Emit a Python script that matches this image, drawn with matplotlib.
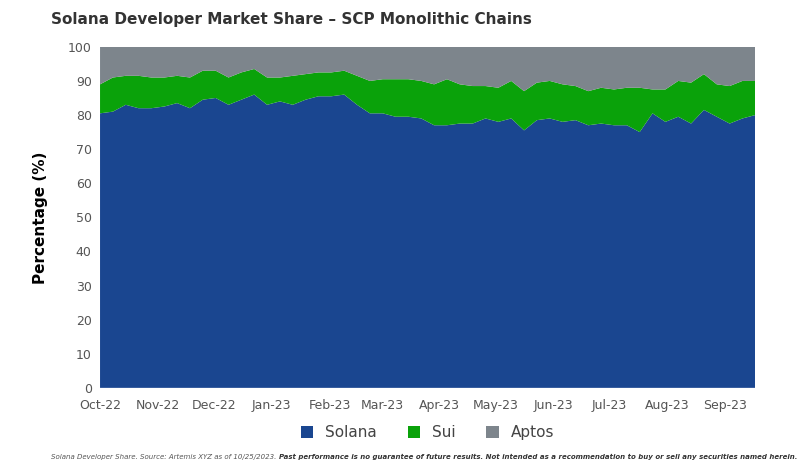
import matplotlib
matplotlib.use("Agg")
import matplotlib.pyplot as plt
import pandas as pd

dates = pd.date_range("2022-10-01", "2023-09-17", periods=52)
solana = [80.5,81,83,82,82,82.5,83.5,82,84.5,85,83,84.5,86,83,84,83,84.5,85.5,85.5,86,83,80.5,80.5,79.5,79.5,79,
          77,77,77.5,77.5,79,78,79,75.5,78.5,79,78,78.5,77,77.5,77,77,75,80.5,78,79.5,77.5,81.5,79.5,77.5,79,80]
top = [89,91,91.5,91.5,91,91,91.5,91,93,93,91,92.5,93.5,91,91,91.5,92,92.5,92.5,93,91.5,90,90.5,90.5,90.5,90,
       89,90.5,89,88.5,88.5,88,90,87,89.5,90,89,88.5,87,88,87.5,88,88,87.5,87.5,90,89.5,92,89,88.5,90,90]
sui = [t - s for t, s in zip(top, solana)]
aptos = [100 - t for t in top]
tick_labels = ["Oct-22","Nov-22","Dec-22","Jan-23","Feb-23","Mar-23","Apr-23","May-23","Jun-23","Jul-23","Aug-23","Sep-23"]

fig = plt.figure(figsize=(8.1, 4.73), dpi=100)
ax = fig.add_axes([0.1235, 0.18, 0.809, 0.721])
ax.stackplot(dates, solana, sui, aptos, colors=["#1a4690", "#0aa20a", "#7d858c"],
             labels=["Solana", "Sui", "Aptos"], linewidth=0)
ax.set_xlim(dates[0], dates[-1])
ax.set_ylim(0, 100)
ax.set_yticks(range(0, 101, 10))
ticks = pd.date_range("2022-10-01", periods=12, freq="MS")
ax.set_xticks(ticks)
ax.set_xticklabels(tick_labels)
for s in ax.spines.values():
    s.set_visible(False)
ax.tick_params(length=0, labelsize=9, colors="#555555")
ax.tick_params(axis="x", pad=8)
ax.tick_params(axis="y", pad=6)
ax.set_ylabel("Percentage (%)", fontsize=11, fontweight="bold", labelpad=14)
fig.text(0.063, 0.95, "Solana Developer Market Share – SCP Monolithic Chains", fontsize=11,
         fontweight="bold", color="#333333")
ax.legend(loc="upper center", bbox_to_anchor=(0.5, -0.07), ncol=3, frameon=False, fontsize=11,
          handlelength=0.8, handleheight=0.8, columnspacing=2, labelcolor="#444444")
t1 = fig.text(0.063, 0.03, "Solana Developer Share. Source: Artemis XYZ as of 10/25/2023. ", fontsize=5,
              style="italic", color="#555555")
ax.annotate("Past performance is no guarantee of future results. Not intended as a recommendation to buy or sell any securities named herein.",
            xy=(1, 0), xycoords=t1, va="bottom", ha="left",
            fontsize=5, style="italic", fontweight="bold", color="#333333", annotation_clip=False)
fig.savefig("out.png", dpi=100)
